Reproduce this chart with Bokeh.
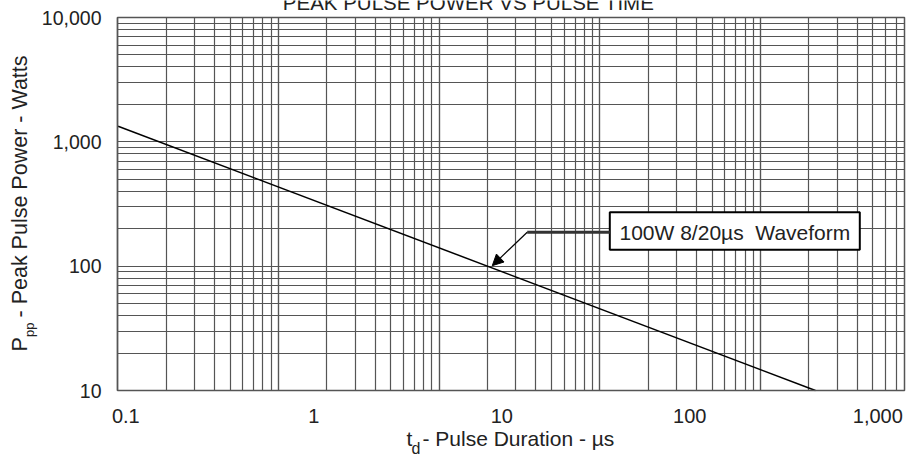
import math
from bokeh.plotting import figure
from bokeh.models import (Range1d, LogScale, LogTicker, FixedTicker, Grid, Label,
                          Arrow, NormalHead, BoxAnnotation)
from bokeh.embed import file_html
from bokeh.resources import INLINE

# ---------------- data ----------------
pulse_us = [0.091, 466.0]          # pulse duration (µs)
power_w = [1336.0, 10.0]           # peak pulse power (W)
x_ticks = [0.1, 1, 10, 100, 1000]
x_tick_labels = ["0.1", "1", "10", "100", "1,000"]
y_ticks = [10, 100, 1000, 10000]
y_tick_labels = ["10", "100", "1,000", "10,000"]
title_text = "PEAK PULSE POWER VS PULSE TIME"
callout_text = "100W 8/20µs\u00a0\u00a0Waveform"
callout_tip = (8.9, 101.0)          # point the arrow points at (µs, W)

# ---------------- layout helpers (canvas pixel -> data) ----------------
W, H = 909, 464
X_DEC, X_ONE = 188.0, 313.3          # px per decade, px of t = 1 µs
Y_DEC, Y_TEN = 373.0 / 3.0, 390.0    # px per decade, px of P = 10 W
FL, FR, FT, FB = 117, 904, 17, 390   # plot area edges (px)


def xd(px):
    return 10 ** ((px - X_ONE) / X_DEC)


def yd(py):
    return 10 ** (1 + (Y_TEN - py) / Y_DEC)


FONT = "Liberation Sans"
TXT = "#222222"
GRID = "#555555"

p = figure(width=W, height=H, x_axis_type="log", y_axis_type="log",
           x_range=Range1d(xd(0), xd(W)), y_range=Range1d(yd(H), yd(0)),
           output_backend="svg", toolbar_location=None, title=None, min_border=0)
p.xgrid.visible = False
p.ygrid.visible = False
p.outline_line_color = None

# printed (scanned) grid: its own log scale, slightly different from the axis scale
grid_dec = 160.7
p.extra_x_ranges = {"grid": Range1d(10 ** ((0 - 117.3) / grid_dec), 10 ** ((W - 117.3) / grid_dec))}
p.extra_x_scales = {"grid": LogScale()}
vgrid = Grid(dimension=0, x_range_name="grid",
             ticker=LogTicker(num_minor_ticks=10, desired_num_ticks=8),
             bounds=(1, 10 ** ((FR - 1 - 117.3) / grid_dec)), cross_bounds=(10, 10000),
             grid_line_color=GRID, grid_line_width=1.2,
             minor_grid_line_color=GRID, minor_grid_line_width=1.2)
hgrid = Grid(dimension=1,
             ticker=LogTicker(num_minor_ticks=10, desired_num_ticks=4),
             bounds=(10, 10000), cross_bounds=(xd(FL), xd(FR)),
             grid_line_color=GRID, grid_line_width=1.0,
             minor_grid_line_color=GRID, minor_grid_line_width=1.0)
p.add_layout(vgrid)
p.add_layout(hgrid)

# plot border
p.add_layout(BoxAnnotation(left=xd(FL), right=xd(FR), bottom=10, top=10000,
                           fill_alpha=0, line_color="#555555", line_alpha=1, line_width=1.5))

# axes (tick labels only), pinned to the plot-area edges
for ax, ticks, labels, fs in ((p.xaxis[0], x_ticks, x_tick_labels, "20px"),
                              (p.yaxis[0], y_ticks, y_tick_labels, "19.5px")):
    ax.ticker = FixedTicker(ticks=ticks, minor_ticks=[])
    ax.major_label_overrides = {t: l for t, l in zip(ticks, labels)}
    ax.axis_line_color = None
    ax.major_tick_line_color = None
    ax.minor_tick_line_color = None
    ax.major_label_text_font = FONT
    ax.major_label_text_font_size = fs
    ax.major_label_text_color = TXT
p.xaxis.fixed_location = 10
p.yaxis.fixed_location = xd(FL)
p.xaxis.major_label_standoff = 12
p.yaxis.major_label_standoff = 10

# data line
p.line(pulse_us, power_w, line_color="black", line_width=1.5)

# callout
p.add_layout(BoxAnnotation(left=xd(609.3), right=xd(859.3), top=yd(211.7), bottom=yd(249.3),
                           fill_color="white", fill_alpha=1.0, line_color="black",
                           line_alpha=1.0, line_width=2))
p.add_layout(Label(x=xd(619), y=yd(231.7), text=callout_text, text_font=FONT,
                   text_font_size="21px", text_color=TXT, text_align="left",
                   text_baseline="middle"))
elbow = (xd(526.7), yd(231.7))
p.add_layout(Arrow(start=None, end=None, x_start=elbow[0], y_start=elbow[1],
                   x_end=xd(609.3), y_end=elbow[1], line_width=3, line_color="#333333"))
p.add_layout(Arrow(end=NormalHead(size=11, fill_color="black", line_color="black"),
                   x_start=elbow[0], y_start=elbow[1], x_end=callout_tip[0], y_end=callout_tip[1],
                   line_width=1.2, line_color="black"))

# title (cut by the top of the page, as in the reference)
p.add_layout(Label(x=xd(468), y=yd(2), text=title_text, text_font=FONT, text_font_size="20.5px",
                   text_color=TXT, text_align="center", text_baseline="middle"))

# x axis label: t_d - Pulse Duration - µs
p.add_layout(Label(x=xd(406), y=yd(438), text="t", text_font=FONT, text_font_size="21px",
                   text_color=TXT, text_align="left", text_baseline="middle"))
p.add_layout(Label(x=xd(411), y=yd(448), text="d", text_font=FONT, text_font_size="16px",
                   text_color=TXT, text_align="left", text_baseline="middle"))
p.add_layout(Label(x=xd(422), y=yd(438), text="- Pulse Duration - µs", text_font=FONT,
                   text_font_size="21px", text_color=TXT, text_align="left",
                   text_baseline="middle"))

# y axis label: P_pp - Peak Pulse Power - Watts (rotated)
ang = math.pi / 2
p.add_layout(Label(x=xd(19), y=yd(351), text="P", angle=ang, text_font=FONT,
                   text_font_size="21.5px", text_color=TXT, text_align="left",
                   text_baseline="middle"))
p.add_layout(Label(x=xd(28.5), y=yd(336.5), text="pp", angle=ang, text_font=FONT,
                   text_font_size="13px", text_color=TXT, text_align="left",
                   text_baseline="middle"))
p.add_layout(Label(x=xd(19), y=yd(317), text="- Peak Pulse Power - Watts", angle=ang,
                   text_font=FONT, text_font_size="21.5px", text_color=TXT, text_align="left",
                   text_baseline="middle"))

open("out.html", "w").write(file_html(p, INLINE))
